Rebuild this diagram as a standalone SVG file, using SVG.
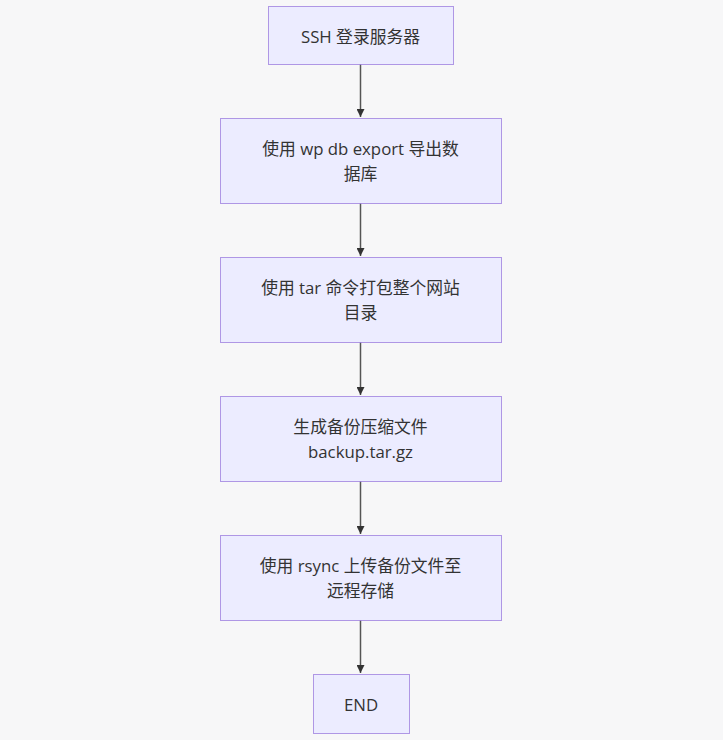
<svg xmlns="http://www.w3.org/2000/svg" width="723" height="740" viewBox="0 0 723 740">
<style>
.box{fill:#ECECFF;stroke:#9370DB;stroke-width:1;stroke-opacity:0.7}
.t{font-family:"Open Sans","Noto Sans CJK SC",sans-serif;font-size:16.8px;fill:#333;text-anchor:middle;dominant-baseline:central}
.e{stroke:#555;stroke-width:1.5;fill:none}
</style>
<defs>
<marker id="ah" viewBox="0 0 10 10" refX="10" refY="5" markerWidth="8" markerHeight="8" markerUnits="userSpaceOnUse" orient="auto">
<path d="M0,0L10,5L0,10z" fill="#333"/>
</marker>
</defs>
<rect width="723" height="740" fill="#F7F7F8"/>
<g id="edges">
<line class="e" x1="360.5" y1="64" x2="360.5" y2="117" marker-end="url(#ah)"/>
<line class="e" x1="360.5" y1="203" x2="360.5" y2="256" marker-end="url(#ah)"/>
<line class="e" x1="360.5" y1="342" x2="360.5" y2="395" marker-end="url(#ah)"/>
<line class="e" x1="360.5" y1="481" x2="360.5" y2="534" marker-end="url(#ah)"/>
<line class="e" x1="360.5" y1="620" x2="360.5" y2="673" marker-end="url(#ah)"/>
</g>
<g id="n1"><rect class="box" x="268.5" y="6.5" width="185" height="58"/><text class="t" x="360.5" y="36">SSH 登录服务器</text></g>
<g id="n2"><rect class="box" x="220.5" y="118.5" width="281" height="85"/><text class="t" x="360.5" y="148">使用 wp db export 导出数</text><text class="t" x="360.5" y="173">据库</text></g>
<g id="n3"><rect class="box" x="220.5" y="257.5" width="281" height="85"/><text class="t" x="360.5" y="287">使用 tar 命令打包整个网站</text><text class="t" x="360.5" y="312">目录</text></g>
<g id="n4"><rect class="box" x="220.5" y="396.5" width="281" height="85"/><text class="t" x="360.5" y="426">生成备份压缩文件</text><text class="t" x="360.5" y="451">backup.tar.gz</text></g>
<g id="n5"><rect class="box" x="220.5" y="535.5" width="281" height="85"/><text class="t" x="360.5" y="565">使用 rsync 上传备份文件至</text><text class="t" x="360.5" y="590">远程存储</text></g>
<g id="n6"><rect class="box" x="313.5" y="674.5" width="96" height="59"/><text class="t" x="361" y="704">END</text></g>
</svg>
